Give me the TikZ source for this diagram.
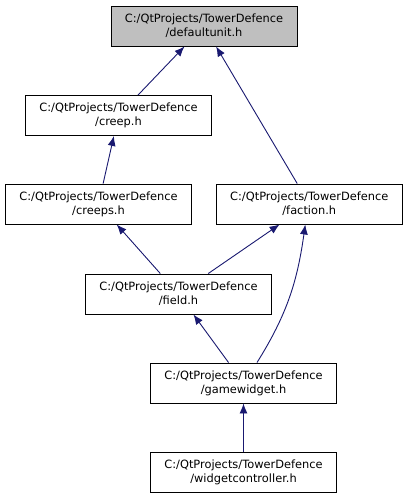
\documentclass[tikz,border=0pt]{standalone}
\usepackage{fontspec}
\setmainfont{DejaVu Sans}
\usetikzlibrary{arrows.meta}
\definecolor{edgeblue}{HTML}{191970}
\definecolor{topgray}{HTML}{BFBFBF}
\tikzset{
  filebox/.style={draw=black, line width=0.9pt, fill=white, minimum width=186pt, minimum height=40pt,
    inner sep=0pt, align=center, font=\fontsize{11.4}{14}\selectfont},
  dep/.style={draw=edgeblue, line width=0.9pt, -{Latex[length=10pt,width=8pt]}}
}
\begin{document}
\begin{tikzpicture}[x=1pt,y=-1pt]
\useasboundingbox (0,0) rectangle (408,499);
\node[filebox, fill=topgray] (defaultunit) at (204,26) {C:/QtProjects/TowerDefence\\/defaultunit.h};
\node[filebox] (creep) at (118.5,115.5) {C:/QtProjects/TowerDefence\\/creep.h};
\node[filebox] (creeps) at (98.5,204) {C:/QtProjects/TowerDefence\\/creeps.h};
\node[filebox] (faction) at (309.3,204) {C:/QtProjects/TowerDefence\\/faction.h};
\node[filebox] (field) at (178.5,294) {C:/QtProjects/TowerDefence\\/field.h};
\node[filebox] (gamewidget) at (243.5,383) {C:/QtProjects/TowerDefence\\/gamewidget.h};
\node[filebox] (widgetcontroller) at (243.5,472) {C:/QtProjects/TowerDefence\\/widgetcontroller.h};
\draw[dep] (creep) -- (defaultunit);
\draw[dep] (faction) -- (defaultunit);
\draw[dep] (creeps) -- (creep);
\draw[dep] (field) -- (creeps);
\draw[dep] (field) -- (faction);
\draw[dep] (gamewidget) -- (field);
\draw[dep] ([xshift=13.5pt]gamewidget.north) to[out=58, in=-98] ([xshift=-4pt]faction.south);
\draw[dep] (widgetcontroller) -- (gamewidget);
\end{tikzpicture}
\end{document}
